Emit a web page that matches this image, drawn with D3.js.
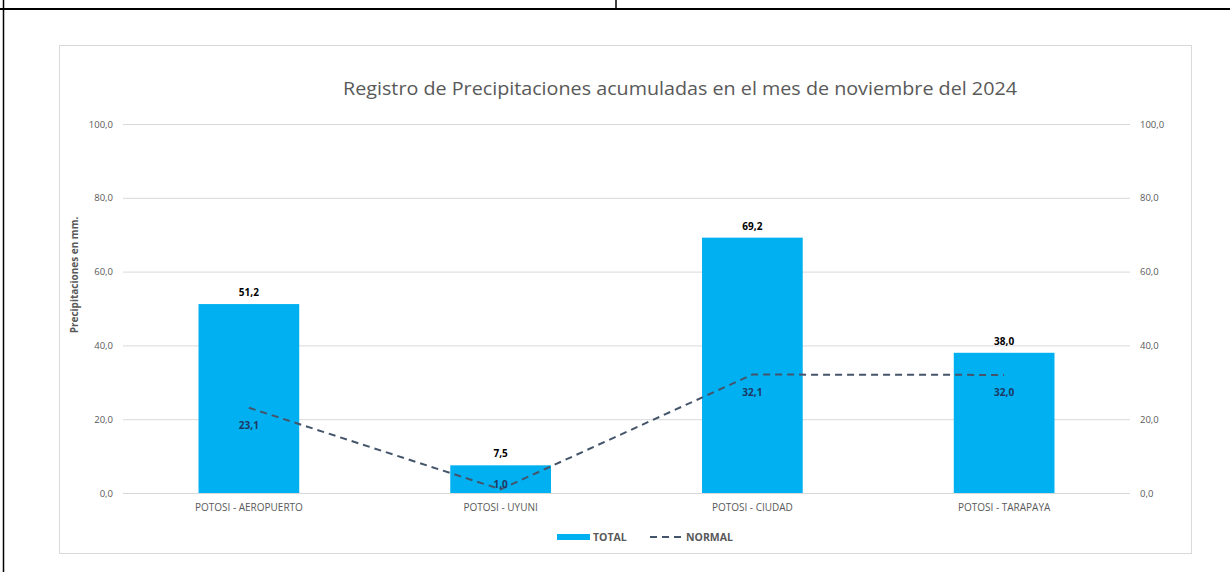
<!DOCTYPE html>
<html lang="es">
<head>
    <meta charset="UTF-8">
    <title>Precipitaciones noviembre 2024</title>
    <script src="https://cdn.jsdelivr.net/npm/d3@7/dist/d3.min.js"></script>
    <style>
        body { margin: 0; background: #fff; }
        text { font-family: "Open Sans", "Liberation Sans", sans-serif; }
    </style>
</head>
<body>
<script>
    // datos
    var estaciones = ["POTOSI - AEROPUERTO", "POTOSI - UYUNI", "POTOSI - CIUDAD", "POTOSI - TARAPAYA"];
    var total = [51.2, 7.5, 69.2, 38.0];
    var normal = [23.1, 1.0, 32.1, 32.0];
    var ticks = [0, 20, 40, 60, 80, 100];

    var width = 1230, height = 572;
    var svg = d3.select("body").append("svg")
        .attr("width", width).attr("height", height);

    var fmt = function(v){ return d3.format(".1f")(v).replace(".", ","); };

    /* marco de la pagina */
    svg.append("line").attr("x1", 0).attr("x2", width).attr("y1", 9).attr("y2", 9)
        .attr("stroke", "#000").attr("stroke-width", 2);
    svg.append("line").attr("x1", 616).attr("x2", 616).attr("y1", 0).attr("y2", 9)
        .attr("stroke", "#000").attr("stroke-width", 1.5);
    svg.append("line").attr("x1", 3.5).attr("x2", 3.5).attr("y1", 0).attr("y2", height)
        .attr("stroke", "#000").attr("stroke-width", 1.5);

    /* caja del grafico */
    svg.append("rect").attr("x", 59.5).attr("y", 45.5).attr("width", 1132).attr("height", 508)
        .attr("fill", "#fff").attr("stroke", "#d9d9d9");

    var plot = {left: 123, right: 1130, top: 124, bottom: 493};

    var x = d3.scaleBand().domain(estaciones)
        .range([plot.left, plot.right]).paddingInner(0.6).paddingOuter(0.3);
    var y = d3.scaleLinear().domain([0, 100]).range([plot.bottom, plot.top]);

    /* lineas de cuadricula */
    svg.append("g").selectAll("line").data(ticks).enter().append("line")
        .attr("x1", plot.left).attr("x2", plot.right)
        .attr("y1", function(d){ return y(d) + 0.5; })
        .attr("y2", function(d){ return y(d) + 0.5; })
        .attr("stroke", "#d9d9d9").attr("stroke-width", 1);

    /* ejes */
    var axisL = svg.append("g").attr("transform", "translate(" + (plot.left - 10) + ",0)")
        .call(d3.axisLeft(y).tickValues(ticks).tickFormat(fmt).tickSize(0));
    var axisR = svg.append("g").attr("transform", "translate(" + (plot.right + 10) + ",0)")
        .call(d3.axisRight(y).tickValues(ticks).tickFormat(fmt).tickSize(0));
    [axisL, axisR].forEach(function(a){
        a.select(".domain").remove();
        a.selectAll("text").attr("fill", "#595959").attr("font-size", "9.5px").attr("x", 0);
    });

    var axisX = svg.append("g").attr("transform", "translate(0," + plot.bottom + ")")
        .call(d3.axisBottom(x).tickSize(0));
    axisX.select(".domain").remove();
    axisX.selectAll("text").attr("fill", "#595959").attr("font-size", "10px").attr("dy", "1.45em");

    /* barras */
    svg.append("g").selectAll("rect").data(total).enter().append("rect")
        .attr("fill", "#00B0F0")
        .attr("x", function(d, i){ return x(estaciones[i]); })
        .attr("y", function(d){ return y(d); })
        .attr("width", x.bandwidth())
        .attr("height", function(d){ return y(0) - y(d); });

    svg.append("g").selectAll("text").data(total).enter().append("text")
        .attr("x", function(d, i){ return x(estaciones[i]) + x.bandwidth() / 2; })
        .attr("y", function(d){ return y(d) - 8; })
        .attr("text-anchor", "middle").attr("font-size", "10px").attr("font-weight", "bold")
        .attr("fill", "#000")
        .text(fmt);

    /* linea normal */
    var line = d3.line()
        .x(function(d, i){ return x(estaciones[i]) + x.bandwidth() / 2; })
        .y(function(d){ return y(d); });
    svg.append("path").datum(normal)
        .attr("d", line).attr("fill", "none")
        .attr("stroke", "#44546A").attr("stroke-width", 2)
        .attr("stroke-dasharray", "7,5");

    svg.append("g").selectAll("text").data(normal).enter().append("text")
        .attr("x", function(d, i){ return x(estaciones[i]) + x.bandwidth() / 2; })
        .attr("y", function(d){ return Math.min(y(d) + 21, plot.bottom - 5); })
        .attr("text-anchor", "middle").attr("font-size", "10px").attr("font-weight", "bold")
        .attr("fill", "#1F3864")
        .text(fmt);

    /* titulo */
    svg.append("text").attr("x", 680).attr("y", 95)
        .attr("text-anchor", "middle").attr("font-size", "19px").attr("fill", "#595959")
        .attr("textLength", 674).attr("lengthAdjust", "spacingAndGlyphs")
        .text("Registro de Precipitaciones acumuladas en el mes de  noviembre del 2024");

    svg.append("text")
        .attr("transform", "translate(78,275) rotate(-90)")
        .attr("text-anchor", "middle").attr("font-size", "10px").attr("font-weight", "bold")
        .attr("fill", "#595959")
        .text("Precipitaciones en mm.");

    /* leyenda */
    var leg = svg.append("g").attr("transform", "translate(0,537)");
    leg.append("rect").attr("x", 557).attr("y", -3).attr("width", 33).attr("height", 6)
        .attr("fill", "#00B0F0");
    leg.append("text").attr("x", 593).attr("y", 4).attr("font-size", "10.5px")
        .attr("font-weight", "bold").attr("fill", "#595959").text("TOTAL");
    leg.append("line").attr("x1", 650).attr("x2", 684).attr("y1", 0).attr("y2", 0)
        .attr("stroke", "#44546A").attr("stroke-width", 2).attr("stroke-dasharray", "7,5");
    leg.append("text").attr("x", 686).attr("y", 4).attr("font-size", "10.5px")
        .attr("font-weight", "bold").attr("fill", "#595959").text("NORMAL");
</script>
</body>
</html>
